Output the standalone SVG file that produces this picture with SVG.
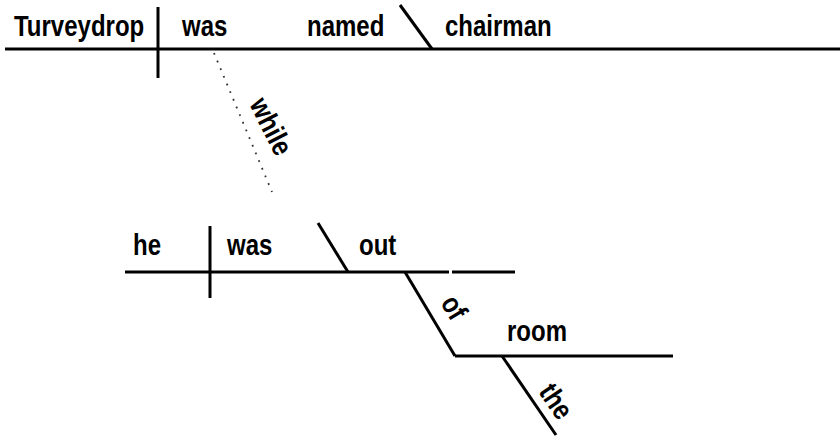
<svg xmlns="http://www.w3.org/2000/svg" width="840" height="442" viewBox="0 0 840 442">
<style>
.ln{stroke:#000;stroke-width:3;fill:none;stroke-linecap:butt}
.dot{stroke:#333;stroke-width:1.8;fill:none;stroke-dasharray:1.8 6.5}
.t{font-family:"Liberation Sans",Arial,sans-serif;font-weight:bold;font-size:24px;fill:#000}
</style>
<rect width="840" height="442" fill="#fff"/>
<g id="connectors">
<line class="ln" x1="5" y1="49" x2="840" y2="49"/>
<line class="ln" x1="158" y1="7" x2="158" y2="78"/>
<line class="ln" x1="400" y1="5" x2="432" y2="49"/>
<line class="dot" x1="214" y1="53" x2="272" y2="192"/>
<line class="ln" x1="125" y1="272" x2="449" y2="272"/>
<line class="ln" x1="452" y1="272" x2="515" y2="272"/>
<line class="ln" x1="210" y1="226" x2="210" y2="298"/>
<line class="ln" x1="318" y1="223" x2="348" y2="272"/>
<line class="ln" x1="405" y1="272" x2="455" y2="356"/>
<line class="ln" x1="455" y1="356" x2="673" y2="356"/>
<line class="ln" x1="502" y1="356" x2="556" y2="435"/>
</g>
<g id="Turveydrop"><text class="t" transform="translate(14,36) scale(1,1.2)">Turveydrop</text></g>
<g id="was1"><text class="t" transform="translate(182,36) scale(1,1.2)">was</text></g>
<g id="named"><text class="t" transform="translate(307,36) scale(1,1.2)">named</text></g>
<g id="chairman"><text class="t" transform="translate(445,36) scale(1,1.2)">chairman</text></g>
<g id="while"><text class="t" text-anchor="middle" transform="translate(270,127) rotate(63) scale(1,1.2) translate(0,7)">while</text></g>
<g id="he"><text class="t" transform="translate(133,255) scale(1,1.2)">he</text></g>
<g id="was2"><text class="t" transform="translate(227,255) scale(1,1.2)">was</text></g>
<g id="out"><text class="t" transform="translate(359,255) scale(1,1.2)">out</text></g>
<g id="of"><text class="t" text-anchor="middle" transform="translate(453,308) rotate(59) scale(1,1.2) translate(0,7)">of</text></g>
<g id="room"><text class="t" transform="translate(507,341) scale(1,1.2)">room</text></g>
<g id="the"><text class="t" text-anchor="middle" transform="translate(555,402) rotate(56) scale(1,1.2) translate(0,7)">the</text></g>
</svg>
